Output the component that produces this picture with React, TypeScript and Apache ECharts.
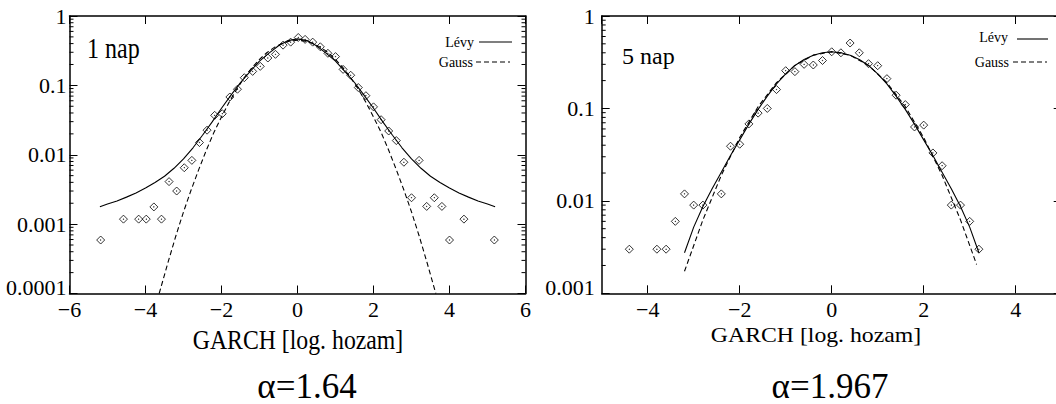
import React, { useEffect, useRef } from "react";
import * as echarts from "echarts";

// ---------- data: 1 nap (left panel) ----------
const day1X = [-5.18, -4.58, -4.18, -3.98, -3.78, -3.58, -3.38, -3.18, -2.98, -2.78, -2.58, -2.38, -2.18, -1.98, -1.78, -1.58, -1.4, -1.18, -0.98, -0.78, -0.58, -0.38, -0.18, 0.02, 0.2, 0.4, 0.6, 0.8, 1.0, 1.2, 1.4, 1.6, 1.8, 2.0, 2.2, 2.4, 2.6, 2.8, 3.0, 3.2, 3.4, 3.6, 3.8, 4.0, 4.38, 5.18];
const day1Y = [0.00059, 0.00118, 0.00118, 0.00118, 0.00177, 0.00118, 0.0041, 0.003, 0.0065, 0.0083, 0.015, 0.0226, 0.037, 0.039, 0.068, 0.088, 0.129, 0.159, 0.188, 0.248, 0.28, 0.38, 0.42, 0.49, 0.46, 0.42, 0.36, 0.29, 0.26, 0.17, 0.14, 0.093, 0.071, 0.049, 0.032, 0.022, 0.016, 0.0078, 0.0024, 0.0083, 0.0018, 0.0024, 0.0018, 0.00059, 0.00118, 0.00059];

const levy1X = [-5.2, -5.0, -4.75, -4.5, -4.25, -4.0, -3.75, -3.5, -3.25, -3.0, -2.75, -2.5, -2.25, -2.0, -1.75, -1.5, -1.25, -1.0, -0.75, -0.5, -0.25, 0, 0.25, 0.5, 0.75, 1.0, 1.25, 1.5, 1.75, 2.0, 2.25, 2.5, 2.75, 3.0, 3.25, 3.5, 3.75, 4.0, 4.25, 4.5, 4.75, 5.0, 5.2];
const levy1Y = [0.00178, 0.00195, 0.00216, 0.00245, 0.00282, 0.00331, 0.00398, 0.0049, 0.00638, 0.0087, 0.0126, 0.0191, 0.0295, 0.0468, 0.0724, 0.11, 0.158, 0.224, 0.292, 0.372, 0.442, 0.468, 0.442, 0.372, 0.292, 0.224, 0.158, 0.11, 0.0724, 0.0468, 0.0295, 0.0191, 0.0126, 0.0087, 0.00638, 0.0049, 0.00398, 0.00331, 0.00282, 0.00245, 0.00216, 0.00195, 0.00178];

const gauss1X = [-3.64, -3.4, -3.2, -3.0, -2.8, -2.6, -2.4, -2.2, -2.0, -1.8, -1.6, -1.4, -1.2, -1.0, -0.8, -0.6, -0.4, -0.2, 0, 0.2, 0.4, 0.6, 0.8, 1.0, 1.2, 1.4, 1.6, 1.8, 2.0, 2.2, 2.4, 2.6, 2.8, 3.0, 3.2, 3.4, 3.64];
const gauss1Y = [0.0001, 0.00029, 0.00068, 0.0015, 0.0031, 0.0061, 0.0116, 0.021, 0.035, 0.057, 0.088, 0.129, 0.179, 0.237, 0.298, 0.356, 0.404, 0.435, 0.447, 0.435, 0.404, 0.356, 0.298, 0.237, 0.179, 0.129, 0.088, 0.057, 0.035, 0.021, 0.0116, 0.0061, 0.0031, 0.0015, 0.00068, 0.00029, 0.0001];

// ---------- data: 5 nap (right panel) ----------
const day5X = [-4.4, -3.8, -3.6, -3.4, -3.2, -3.0, -2.8, -2.4, -2.2, -2.0, -1.8, -1.6, -1.4, -1.2, -1.0, -0.8, -0.6, -0.4, -0.2, 0.0, 0.2, 0.4, 0.6, 0.8, 1.0, 1.2, 1.4, 1.6, 1.8, 2.0, 2.2, 2.4, 2.6, 2.8, 3.0, 3.2];
const day5Y = [0.003, 0.003, 0.003, 0.006, 0.0119, 0.009, 0.009, 0.0119, 0.039, 0.041, 0.068, 0.089, 0.1, 0.16, 0.256, 0.25, 0.3, 0.295, 0.33, 0.41, 0.4, 0.51, 0.4, 0.305, 0.29, 0.21, 0.139, 0.11, 0.063, 0.066, 0.033, 0.024, 0.009, 0.009, 0.006, 0.003];

const levy5X = [-3.2, -3.0, -2.8, -2.6, -2.4, -2.2, -2.0, -1.8, -1.6, -1.4, -1.2, -1.0, -0.8, -0.6, -0.4, -0.2, 0, 0.2, 0.4, 0.6, 0.8, 1.0, 1.2, 1.4, 1.6, 1.8, 2.0, 2.2, 2.4, 2.6, 2.8, 3.0, 3.2];
const levy5Y = [0.00275, 0.0052, 0.0087, 0.0135, 0.0204, 0.0309, 0.0457, 0.0676, 0.0977, 0.136, 0.184, 0.237, 0.292, 0.339, 0.376, 0.4, 0.41, 0.4, 0.376, 0.339, 0.292, 0.237, 0.184, 0.136, 0.0977, 0.0676, 0.0457, 0.0309, 0.0204, 0.0135, 0.0087, 0.0052, 0.00275];

const gauss5X = [-3.2, -2.8, -2.4, -2.0, -1.6, -1.2, -0.8, -0.4, 0, 0.4, 0.8, 1.2, 1.6, 2.0, 2.4, 2.8, 3.15];
const gauss5Y = [0.00173, 0.00622, 0.0189, 0.0484, 0.1045, 0.19, 0.292, 0.377, 0.41, 0.377, 0.292, 0.19, 0.1045, 0.0484, 0.0189, 0.00622, 0.00205];

// tick labels / text
const panel1Label = "1 nap";
const panel5Label = "5 nap";
const xAxisTitle = "GARCH [log. hozam]";
const alpha1Label = "\u03b1=1.64";
const alpha5Label = "\u03b1=1.967";
const legendNames = ["Lévy", "Gauss"];

// minor log ticks
const minorMultipliers = [2, 3, 4, 5, 6, 7, 8, 9];
const decades1 = [0.0001, 0.001, 0.01, 0.1];
const decades5 = [0.001, 0.01, 0.1];

const zip = (xs: number[], ys: number[]) => xs.map((x, i) => [x, ys[i]]);
const minorData = (decades: number[]) => {
  const out: number[][] = [];
  decades.forEach((d) => minorMultipliers.forEach((m) => out.push([0, d * m])));
  return out;
};

const FONT = "'Liberation Serif', 'Times New Roman', serif";
const BLACK = "#000";

const diamondSymbol =
  "path://M5 0 L10 5 L5 10 L0 5 Z M4.7 4.7 L5.3 4.7 L5.3 5.3 L4.7 5.3 Z";

export default function App() {
  const ref = useRef<HTMLDivElement>(null);

  useEffect(() => {
    if (!ref.current) return;
    const chart = echarts.init(ref.current, undefined, { renderer: "svg" });

    const minusFmt = (v: number) => (v < 0 ? "\u2212" + Math.abs(v) : String(v));
    const logStr = (v: number) => String(Number(v.toPrecision(1)));

    const xAxisBase = (gridIndex: number, min: number, max: number, top: boolean, extra: any = {}) => {
      const { labelExtra, ...rest } = extra;
      return {
        type: "value",
        gridIndex,
        position: top ? "top" : "bottom",
        min,
        max,
        ...rest,
        axisLine: { show: true, onZero: false, lineStyle: { color: BLACK, width: 1.5 } },
        axisTick: { show: true, inside: true, length: 8, lineStyle: { color: BLACK, width: 1 } },
        axisLabel: top
          ? { show: false }
          : {
              show: true,
              color: BLACK,
              fontFamily: FONT,
              fontSize: 22,
              margin: 5,
              formatter: minusFmt,
              ...(labelExtra || {}),
            },
        splitLine: { show: false },
      };
    };

    const yAxisBase = (gridIndex: number, min: number, max: number, right: boolean, margin: number) => ({
      type: "log",
      logBase: 10,
      gridIndex,
      position: right ? "right" : "left",
      min,
      max,
      axisLine: { show: true, onZero: false, lineStyle: { color: BLACK, width: 1.5 } },
      axisTick: { show: true, inside: true, length: 8, lineStyle: { color: BLACK, width: 1 } },
      axisLabel: right
        ? { show: false }
        : {
            show: true,
            color: BLACK,
            fontFamily: FONT,
            fontSize: 22,
            margin,
            // the lowest label is lifted a little so it clears the first x label
            formatter: (v: number) =>
              Math.abs(v - min) / min < 1e-6 ? "{lo|" + logStr(v) + "}" : logStr(v),
            rich: {
              lo: { fontFamily: FONT, fontSize: 22, color: BLACK, padding: [0, 0, 12, 0] },
            },
          },
      splitLine: { show: false },
    });

    const minorSeries = (xAxisIndex: number, yAxisIndex: number, decades: number[]) => ({
      type: "custom",
      xAxisIndex,
      yAxisIndex,
      silent: true,
      clip: false,
      data: minorData(decades),
      renderItem: (params: any, api: any) => {
        const cs = params.coordSys;
        const y = api.coord([api.value(0), api.value(1)])[1];
        const st = { stroke: BLACK, lineWidth: 1 };
        return {
          type: "group",
          children: [
            { type: "line", shape: { x1: cs.x, y1: y, x2: cs.x + 4, y2: y }, style: st },
            { type: "line", shape: { x1: cs.x + cs.width - 4, y1: y, x2: cs.x + cs.width, y2: y }, style: st },
          ],
        };
      },
    });

    const lineSeries = (name: string, xi: number, yi: number, xs: number[], ys: number[], dashed: boolean) => ({
      name,
      type: "line",
      xAxisIndex: xi,
      yAxisIndex: yi,
      data: zip(xs, ys),
      symbol: "none",
      smooth: false,
      lineStyle: { color: BLACK, width: 1.1, type: dashed ? [5, 3] : "solid" },
      z: 2,
    });

    const scatterSeries = (name: string, xi: number, yi: number, xs: number[], ys: number[]) => ({
      name,
      type: "scatter",
      xAxisIndex: xi,
      yAxisIndex: yi,
      data: zip(xs, ys),
      symbol: diamondSymbol,
      symbolSize: 8,
      itemStyle: { color: "rgba(255,255,255,0)", borderColor: BLACK, borderWidth: 1 },
      z: 3,
    });

    const txt = (text: string, x: number, y: number, size: number, align: string, extra: any = {}) => ({
      type: "text",
      x,
      y,
      ...extra,
      style: {
        text,
        fontFamily: FONT,
        fontSize: size,
        fill: BLACK,
        textAlign: align,
        textVerticalAlign: "middle",
      },
    });
    const seg = (x1: number, x2: number, y: number, dashed: boolean) => ({
      type: "line",
      shape: { x1, y1: y, x2, y2: y },
      style: { stroke: BLACK, lineWidth: 1.1, lineDash: dashed ? [5, 3] : null },
    });

    chart.setOption({
      animation: false,
      backgroundColor: "#fff",
      grid: [
        { left: 69.5, top: 16, width: 456, height: 277.5 },
        { left: 601.7, top: 16, width: 460, height: 277.3 },
      ],
      xAxis: [
        xAxisBase(0, -6, 6, false, { interval: 2 }),
        xAxisBase(0, -6, 6, true, { interval: 2 }),
        xAxisBase(1, -5, 5, false, { splitNumber: 5, labelExtra: { showMinLabel: false, showMaxLabel: false } }),
        xAxisBase(1, -5, 5, true, { splitNumber: 5 }),
      ],
      yAxis: [
        yAxisBase(0, 0.0001, 1, false, 3),
        yAxisBase(0, 0.0001, 1, true, 3),
        yAxisBase(1, 0.001, 1, false, 7),
        yAxisBase(1, 0.001, 1, true, 7),
      ],
      series: [
        minorSeries(0, 0, decades1),
        minorSeries(2, 2, decades5),
        lineSeries(legendNames[0], 0, 0, levy1X, levy1Y, false),
        lineSeries(legendNames[1], 0, 0, gauss1X, gauss1Y, true),
        scatterSeries(panel1Label, 0, 0, day1X, day1Y),
        lineSeries(legendNames[0], 2, 2, levy5X, levy5Y, false),
        lineSeries(legendNames[1], 2, 2, gauss5X, gauss5Y, true),
        scatterSeries(panel5Label, 2, 2, day5X, day5Y),
      ],
      graphic: [
        txt(panel1Label, 87, 48, 24, "left", { scaleY: 1.25 }),
        txt(panel5Label, 622, 56, 24, "left"),
        // legends
        txt(legendNames[0], 474, 42, 14, "right"),
        seg(479, 512, 42, false),
        txt(legendNames[1], 473, 62, 14, "right"),
        seg(476, 510, 62, true),
        txt(legendNames[0], 1008, 37, 14, "right"),
        seg(1017, 1048, 39, false),
        txt(legendNames[1], 1009, 62, 14, "right"),
        seg(1013, 1047, 62, true),
        // axis titles
        txt(xAxisTitle, 298, 340, 22, "center", { scaleX: 1.08, scaleY: 1.2 }),
        txt(xAxisTitle, 816, 335, 22, "center", { scaleX: 1.08 }),
        txt(alpha1Label, 307, 386, 35, "center"),
        txt(alpha5Label, 830, 386, 35, "center"),
      ],
    });

    return () => chart.dispose();
  }, []);

  return (
    <div
      ref={ref}
      style={{ position: "fixed", left: 0, top: 0, width: 1070, height: 404 }}
    />
  );
}
